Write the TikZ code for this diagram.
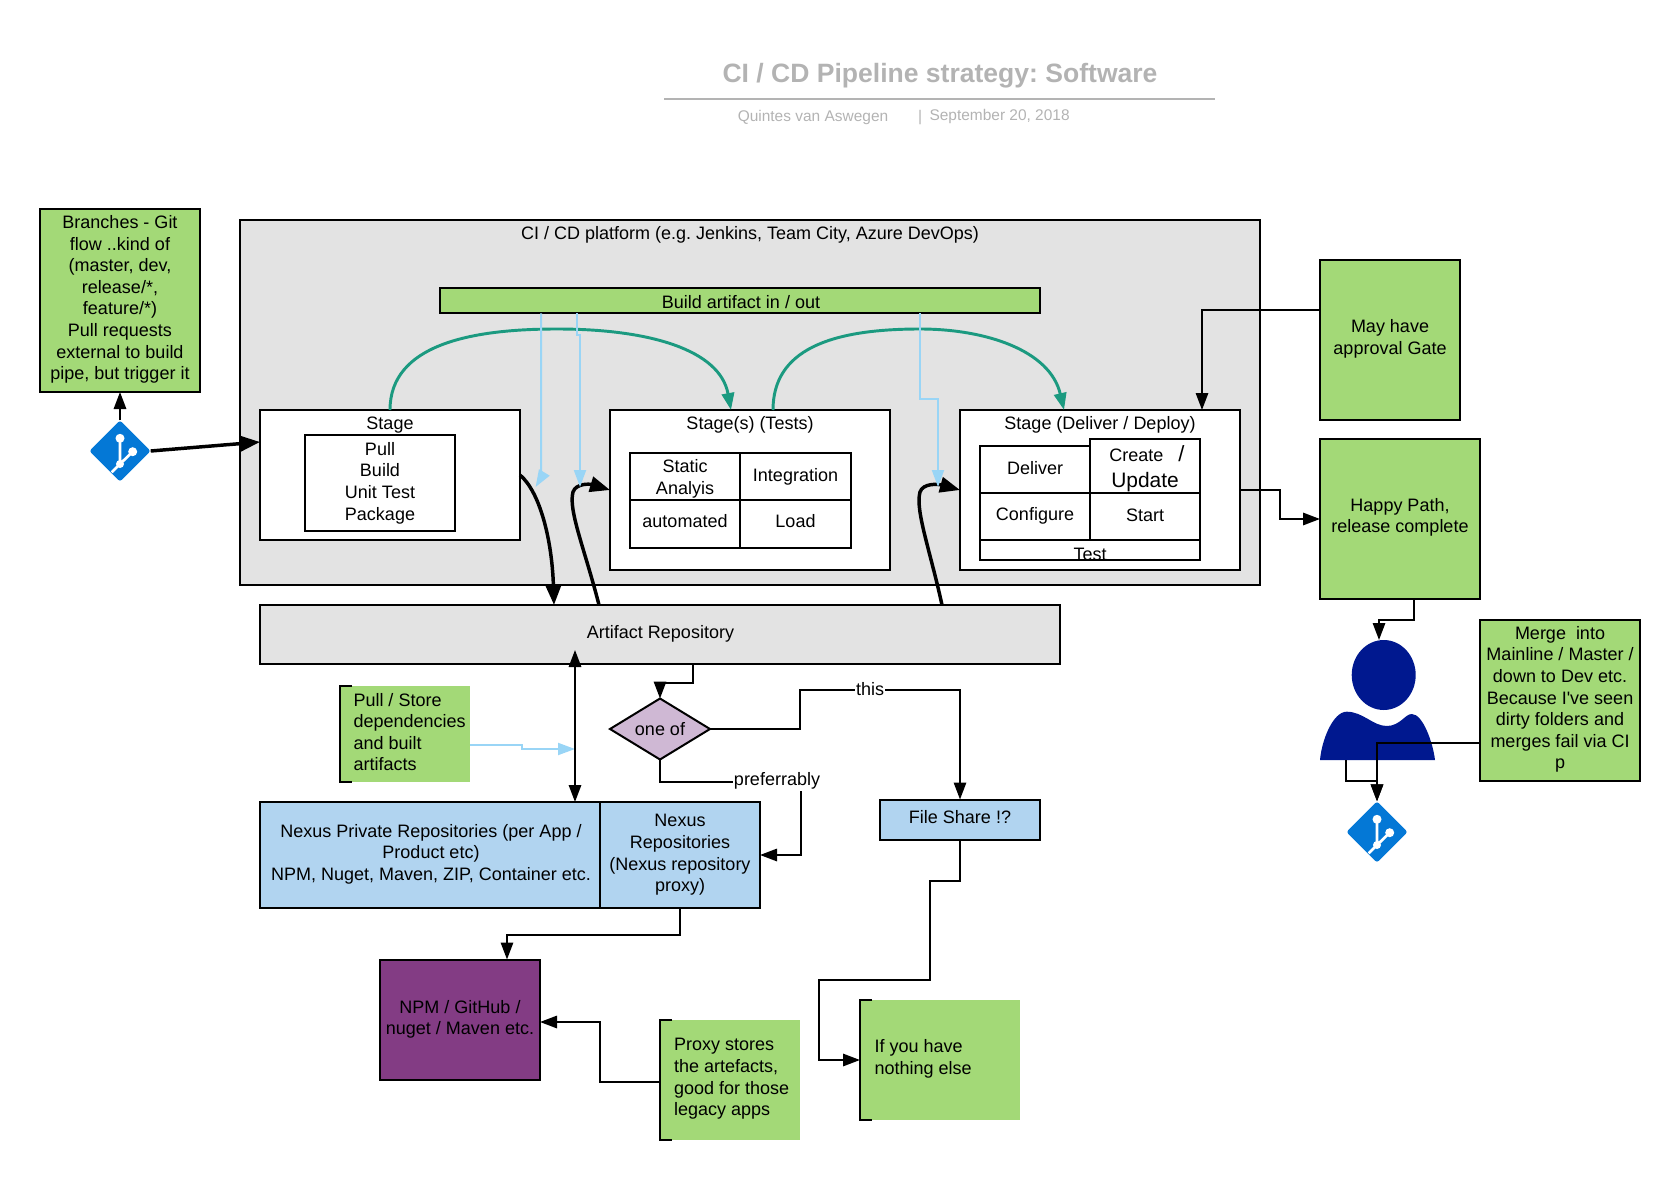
\documentclass[tikz,border=0pt]{standalone}
\usepackage{fontspec}
\setmainfont{Liberation Sans}[Ligatures=TeXOff]
\usepackage{tikz}
\usepackage{xcolor}
\usetikzlibrary{arrows.meta,shapes.geometric}
\definecolor{notegreen}{HTML}{A3D977}
\definecolor{platformgrey}{HTML}{E3E3E3}
\definecolor{repoblue}{HTML}{B1D4F0}
\definecolor{npmpurple}{HTML}{833C84}
\definecolor{choicemauve}{HTML}{CFB8D4}
\definecolor{personnavy}{HTML}{00188F}
\definecolor{arcteal}{HTML}{1B9A80}
\definecolor{feedblue}{HTML}{99D5F6}
\definecolor{gitblue}{HTML}{0478D6}
\definecolor{titlegrey}{HTML}{B3B3B3}
\newcommand{\bodyfont}{\fontsize{13.5pt}{16.2pt}\selectfont}
\newcommand{\notebracket}[1]{\draw[line width=1.5pt] ([xshift=9pt]#1.north west) -- (#1.north west) -- (#1.south west) -- ([xshift=9pt]#1.south west);}
\tikzset{every picture/.style={line width=1.5pt}}
\tikzset{
  every node/.style={font=\bodyfont},
  box/.style={draw,line width=1.5pt,inner sep=0pt,outer sep=0pt,align=center},
  note/.style={fill=notegreen,inner sep=0pt,outer sep=0pt},
  notetext/.style={anchor=west,align=left,inner sep=0pt},
  plain/.style={inner sep=0pt,align=center},
  edgelabel/.style={fill=white,inner sep=1pt},
  flow/.style={line width=1.5pt,-{Triangle[length=12.75pt,width=9.25pt]}},
  heavy/.style={line width=2.6pt,-{Triangle[length=15pt,width=11.5pt]}},
  arc/.style={arcteal,line width=2.2pt,-{Triangle[length=12.75pt,width=9.25pt]}},
  feed/.style={feedblue,line width=1.5pt,-{Triangle[length=12.75pt,width=9pt]}},
  gitmark/.pic={
    \node[diamond,fill=gitblue,minimum size=46pt,inner sep=0pt,outer sep=0pt,rounded corners=2pt] (-box) at (0,0) {};
    \draw[white,line width=2pt] (-8.3,-21.3) -- (0,-13) -- (12.7,-0.7) (0,-13) -- (0,12.7);
    \fill[white] (0,-13) circle (4) (12.7,-0.7) circle (4.5) (0,12.7) circle (4.5);
  }
}

\begin{document}
\frenchspacing
\begin{tikzpicture}[x=0.75pt,y=0.75pt,yscale=-1,xscale=1]
\useasboundingbox (0,0) rectangle (1680,1180);

% Heading
\node[plain,text=titlegrey,font=\fontsize{19.9pt}{24pt}\selectfont\bfseries] (title) at (940,76) {CI / CD Pipeline strategy: Software};
\coordinate (ruleleft) at (664,99);
\coordinate (ruleright) at (1215,99);
\draw[titlegrey,line width=1.5pt] (ruleleft) -- (ruleright);
\node[plain,text=titlegrey,font=\fontsize{11.6pt}{14pt}\selectfont] (author) at (813,118) {Quintes van Aswegen};
\node[plain,text=titlegrey,font=\fontsize{11.6pt}{14pt}\selectfont] (bar) at (920,117.5) {|};
\node[plain,text=titlegrey,font=\fontsize{11.6pt}{14pt}\selectfont,anchor=west] (date) at (928.5,117) {September 20, 2018};

% Platform and its stages
\node[box,fill=platformgrey,minimum width=765pt,minimum height=273.4pt] (platform) at (750,402.25) {};
\node[plain] (platformlabel) at (750,235) {CI / CD platform (e.g. Jenkins, Team City, Azure DevOps)};
\node[box,fill=notegreen,minimum width=450pt,minimum height=18.75pt] (artifactbar) at (739.5,301) {};
\node[plain] (artifactbarlabel) at (741,302) {Build artifact in / out};

\node[box,fill=white,minimum width=195pt,minimum height=97.5pt] (stage) at (390,475) {};
\node[plain] (stagelabel) at (390,425) {Stage};
\node[box,minimum width=112.5pt,minimum height=72pt] (buildsteps) at (380,483) {Pull\\Build\\Unit Test\\Package};

\node[box,fill=white,minimum width=210pt,minimum height=120pt] (testsbox) at (750,490) {};
\node[plain] (testslabel) at (750,425) {Stage(s) (Tests)};
\node[box,minimum width=82.5pt,minimum height=35.25pt] (static) at (685,476.5) {};
\node[plain] (staticlabel) at (685,479) {Static\\Analyis};
\node[box,minimum width=83.25pt,minimum height=35.25pt] (integration) at (795.5,476.5) {Integration};
\node[box,minimum width=82.5pt,minimum height=36pt] (automated) at (685,524) {};
\node[plain] (automatedlabel) at (685,521) {automated};
\node[box,minimum width=83.25pt,minimum height=36pt] (load) at (795.5,524) {};
\node[plain] (loadlabel) at (795.5,521) {Load};

\node[box,fill=white,minimum width=210pt,minimum height=120pt] (deliverbox) at (1100,490) {};
\node[plain] (deliverlabel) at (1100,425) {Stage (Deliver / Deploy)};
\node[box,minimum width=82.5pt,minimum height=35.25pt] (deliver) at (1035,469.5) {};
\node[plain] (deliverlabeltext) at (1035,468) {Deliver};
\node[box,minimum width=82.5pt,minimum height=40.5pt] (create) at (1145,466) {};
\node[plain] (createlabel) at (1147,453.5) {Create\ \ \ {\fontsize{16.5pt}{18pt}\selectfont/}};
\node[plain,font=\fontsize{15.7pt}{18pt}\selectfont] (updatelabel) at (1145,482) {Update};
\node[box,minimum width=82.5pt,minimum height=35.25pt] (configure) at (1035,516.5) {};
\node[plain] (configurelabel) at (1035,515.5) {Configure};
\node[box,minimum width=82.5pt,minimum height=35.25pt] (start) at (1145,516.5) {};
\node[plain] (startlabel) at (1145,515.5) {Start};
\node[box,minimum width=165pt,minimum height=15pt] (testcell) at (1090,550) {};
\node[plain] (testlabel) at (1090,554) {Test};

% Artifact store
\node[box,fill=platformgrey,minimum width=600pt,minimum height=44.25pt] (artifact) at (660,634.5) {};
\node[plain] (artifactlabel) at (660.5,634) {Artifact Repository};

% Green notes
\node[box,fill=notegreen,minimum width=120pt,minimum height=137.25pt] (branches) at (120,300.5) {};
\node[plain] (brancheslabel) at (120,299.5) {Branches - Git\\flow ..kind of\\(master, dev,\\release/*,\\feature/*)\\Pull requests\\external to build\\pipe, but trigger it};
\node[box,fill=notegreen,minimum width=105pt,minimum height=120pt] (gate) at (1390,340) {};
\node[plain] (gatelabel) at (1390,339) {May have\\approval Gate};
\node[box,fill=notegreen,minimum width=120pt,minimum height=120pt] (happy) at (1400,519) {};
\node[plain] (happylabel) at (1400,517.5) {Happy Path,\\release complete};
\node[box,fill=notegreen,minimum width=120pt,minimum height=120.75pt] (merge) at (1560,700.5) {};
\node[plain] (mergelabel) at (1560,699.5) {Merge\ \ into\\Mainline / Master /\\down to Dev etc.\\Because I've seen\\dirty folders and\\merges fail via CI\\p};

\node[note,minimum width=97.5pt,minimum height=72pt] (pullnote) at (405,734) {};
\notebracket{pullnote}
\node[notetext] (pullnotetext) at (352.5,732) {Pull / Store\\dependencies\\and built\\artifacts};
\node[note,minimum width=105pt,minimum height=90pt] (proxynote) at (730,1080) {};
\notebracket{proxynote}
\node[notetext] (proxynotetext) at (673,1079) {Proxy stores\\the artefacts,\\good for those\\legacy apps};
\node[note,minimum width=120pt,minimum height=90pt] (ifnote) at (940,1060) {};
\notebracket{ifnote}
\node[notetext] (ifnotetext) at (873.5,1059) {If you have\\nothing else};

% Repositories
\node[box,fill=repoblue,minimum width=255pt,minimum height=79.5pt] (nexusprivate) at (430,855) {};
\node[plain] (nexusprivatelabel) at (431,854) {Nexus Private Repositories (per App /\\Product etc)\\NPM, Nuget, Maven, ZIP, Container etc.};
\node[box,fill=repoblue,minimum width=120pt,minimum height=79.5pt] (nexusproxy) at (680,855) {Nexus\\Repositories\\(Nexus repository\\proxy)};
\node[box,fill=repoblue,minimum width=120pt,minimum height=30pt] (fileshare) at (960,819.5) {};
\node[plain] (filesharelabel) at (960,817.5) {File Share !?};
\node[box,fill=npmpurple,minimum width=120pt,minimum height=90pt] (npm) at (460,1019.5) {NPM / GitHub /\\nuget / Maven etc.};
\node[box,fill=choicemauve,diamond,aspect=1.64,minimum width=75pt,minimum height=45.75pt] (oneof) at (660,729) {one of};

% Git marks
\pic (gittop) at (120,451) {gitmark};
\pic (gitbottom) at (1377,832) {gitmark};

% Person
\node[ellipse,fill=personnavy,minimum width=48pt,minimum height=52.5pt,inner sep=0pt,outer sep=0pt] (head) at (1383.7,675) {};
\fill[personnavy] (1320,760) .. controls (1321.7,740) and (1333,711.7) .. (1346.7,711.7) .. controls (1363,711.7) and (1373,726) .. (1386.7,726) .. controls (1400,726) and (1405,714) .. (1411.7,714) .. controls (1423,714) and (1433,743) .. (1435,760) -- cycle;
\coordinate (personfoot) at (1346,760);

% Build flow arcs
\draw[arc] (stage.north) .. controls (390,345) and (470,329) .. (557,329) .. controls (650,329) and (720,350) .. (testsbox.north -| 731,0);
\draw[arc] (testsbox.north -| 773,0) .. controls (773,350) and (830,329) .. (920,329) .. controls (985,329) and (1050,350) .. (deliverbox.north -| 1064,0);

% Thick links with the repository
\draw[heavy] (stage.east) .. controls (540,492) and (552,540) .. (artifact.north -| 554,0);
\draw[heavy] (artifact.north -| 599,0) .. controls (585,550) and (568,510) .. (573,492) .. controls (576,483) and (590,484) .. (testsbox.west);
\draw[heavy] (artifact.north -| 942,0) .. controls (930,550) and (915,510) .. (920,492) .. controls (923,483) and (938,484) .. (deliverbox.west);

% Artifact bar feeds
\draw[feed] (artifactbar.south -| 541,0) -- (541,478) -- (535.6,487);
\draw[feed] (artifactbar.south -| 577,0) -- (577,335) -- (580,335) -- (580,487);
\draw[feed] (artifactbar.south -| 920,0) |- (938,399) -- (938,487);
\draw[feed] (pullnote.east |- 0,745) -- (522,745) -- (522,749) -- (575,749);

% Straight connectors
\draw[flow] (gittop-box.north) -- (branches.south);
\draw[line width=2.6pt,-{Triangle[length=15pt,width=11.5pt]}] (gittop-box.east) -- (stage.west |- 0,442);
\draw[flow] (gate.west |- 0,310) -| (deliverbox.north -| 1202,0);
\draw[flow] (deliverbox.east) -- (1280,490) |- (happy.west);
\draw[flow] (happy.south -| 1414,0) |- (1379,620) -- (head.north -| 1379,0);
\draw[flow] (personfoot) |- (1377,781) -- (gitbottom-box.north);
\draw[flow] (merge.west |- 0,743) -| (gitbottom-box.north);
\coordinate (repotip) at (575,650);
\draw[line width=1.5pt,{Triangle[length=12.75pt,width=9.25pt]}-{Triangle[length=12.75pt,width=9.25pt]}] (repotip) -- (nexusprivate.north -| 575,0);
\draw[flow] (artifact.south -| 693,0) |- (660,683) -- (oneof.north);
\draw[flow] (oneof.east) -| (800,690) -| (fileshare.north);
\draw[flow] (oneof.south) |- (801,782) |- (nexusproxy.east);
\draw[flow] (nexusproxy.south) |- (507,935) -- (npm.north -| 507,0);
\draw[flow] (proxynote.west |- 0,1082) -| (600,1022) -- (npm.east |- 0,1022);
\draw[flow] (fileshare.south) |- (930,881) |- (819,980) |- (ifnote.west);

% Link labels
\node[edgelabel] (thislabel) at (870,689) {this};
\node[edgelabel] (preferlabel) at (777,781) {preferrably};

\end{tikzpicture}
\end{document}
